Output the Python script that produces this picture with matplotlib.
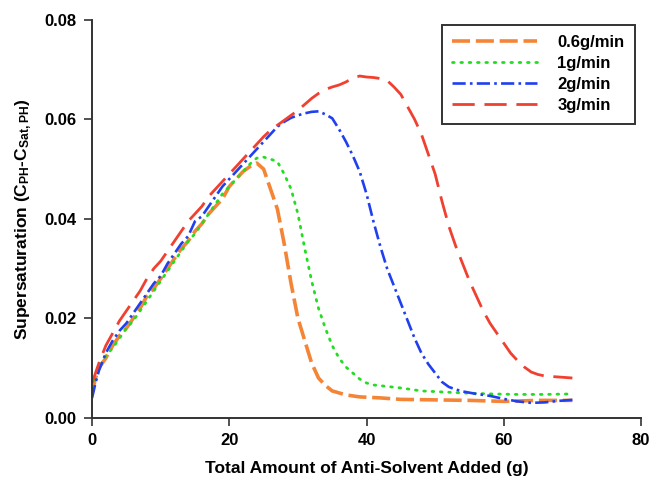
"""Supersaturation vs anti-solvent added, four feed rates."""
import matplotlib
matplotlib.use("Agg")
import matplotlib.pyplot as plt

plt.rcParams["font.family"] = ["Liberation Sans", "DejaVu Sans"]
plt.rcParams["font.weight"] = "bold"
plt.rcParams["mathtext.default"] = "regular"

# 0.6 g/min
x_06 = [0, 0.5, 1, 2, 3, 4, 5, 6, 7, 8, 9, 10, 11, 12, 13, 14, 15, 16, 17, 18, 19, 20,
        21, 22, 23, 24, 25, 26, 27, 28, 29, 30, 31, 32, 33, 34, 35, 37, 39, 42, 45, 50,
        55, 60, 65, 70]
y_06 = [0.005, 0.008, 0.010, 0.012, 0.0145, 0.0165, 0.018, 0.020, 0.022, 0.0245, 0.026,
        0.028, 0.030, 0.032, 0.034, 0.0355, 0.0375, 0.039, 0.041, 0.0425, 0.044, 0.0465,
        0.048, 0.0495, 0.0505, 0.0512, 0.050, 0.046, 0.042, 0.035, 0.027, 0.020, 0.0155,
        0.011, 0.008, 0.0065, 0.0054, 0.0046, 0.0042, 0.004, 0.0037, 0.0036, 0.0035,
        0.0033, 0.0035, 0.0035]

# 1 g/min
x_1 = [0, 0.5, 1, 2, 3, 4, 5, 6, 7, 8, 9, 10, 11, 12, 13, 14, 15, 16, 17, 18, 19, 20,
       21, 22, 23, 24, 25, 26, 27, 28, 29, 30, 31, 32, 33, 34, 35, 36, 37, 38, 39, 40,
       41, 43, 45, 48, 51, 54, 58, 62, 66, 70]
y_1 = [0.006, 0.008, 0.010, 0.0125, 0.014, 0.016, 0.018, 0.0195, 0.0215, 0.0235, 0.0255,
       0.0275, 0.0295, 0.0315, 0.0335, 0.0355, 0.037, 0.039, 0.041, 0.043, 0.045, 0.0465,
       0.048, 0.0495, 0.051, 0.0522, 0.0524, 0.052, 0.0515, 0.049, 0.046, 0.041, 0.034,
       0.0275, 0.022, 0.018, 0.0145, 0.012, 0.0102, 0.009, 0.0078, 0.007, 0.0066, 0.0063,
       0.006, 0.0054, 0.0052, 0.005, 0.0048, 0.0047, 0.0047, 0.0048]

# 2 g/min
x_2 = [0, 0.5, 1, 2, 3, 4, 5, 6, 7, 8, 9, 10, 11, 12, 13, 14, 15, 16, 17, 18, 19, 20,
       21, 22, 23, 24, 25, 26, 27, 28, 29, 30, 31, 32, 33, 34, 35, 36, 37, 38, 39, 40,
       41, 42, 43, 44, 45, 46, 47, 48, 49, 50, 51, 52, 53, 54, 56, 58, 60, 62, 64, 66,
       68, 70]
y_2 = [0.004, 0.007, 0.0095, 0.013, 0.0155, 0.0175, 0.019, 0.021, 0.023, 0.025, 0.027,
       0.0285, 0.031, 0.033, 0.035, 0.0365, 0.0395, 0.0405, 0.0425, 0.0445, 0.0465, 0.048,
       0.0495, 0.051, 0.0525, 0.054, 0.0555, 0.057, 0.0585, 0.0595, 0.0603, 0.0608,
       0.0612, 0.0615, 0.0616, 0.061, 0.0602, 0.058, 0.0555, 0.0527, 0.0495, 0.045,
       0.0395, 0.0345, 0.030, 0.0265, 0.023, 0.0195, 0.016, 0.013, 0.0108, 0.009, 0.0072,
       0.0062, 0.0057, 0.0053, 0.0048, 0.0044, 0.0038, 0.0033, 0.003, 0.0031, 0.0034,
       0.0036]

# 3 g/min
x_3 = [0, 0.5, 1, 2, 3, 4, 5, 6, 7, 8, 9, 10, 11, 12, 13, 14, 15, 16, 17, 18, 19, 20,
       21, 22, 23, 24, 25, 26, 27, 28, 29, 30, 31, 32, 33, 34, 35, 36, 37, 38, 39, 40,
       41, 42, 43, 44, 45, 46, 47, 48, 49, 50, 51, 52, 53, 54, 55, 56, 57, 58, 59, 60,
       61, 62, 63, 64, 65, 66, 67, 68, 69, 70]
y_3 = [0.007, 0.009, 0.011, 0.0145, 0.017, 0.0195, 0.0215, 0.0235, 0.0255, 0.028, 0.030,
       0.0315, 0.0335, 0.0355, 0.0375, 0.0395, 0.041, 0.0425, 0.0445, 0.046, 0.0475, 0.049,
       0.0505, 0.052, 0.0535, 0.055, 0.0565, 0.0578, 0.0588, 0.0598, 0.0608, 0.0618,
       0.063, 0.0642, 0.0652, 0.066, 0.0665, 0.0669, 0.0675, 0.0683, 0.0687, 0.0685,
       0.0684, 0.0682, 0.0678, 0.0665, 0.065, 0.0625, 0.060, 0.057, 0.053, 0.049, 0.0435,
       0.0385, 0.0345, 0.031, 0.0275, 0.0245, 0.0215, 0.019, 0.017, 0.015, 0.013, 0.0115,
       0.0102, 0.0092, 0.0087, 0.0084, 0.0083, 0.0082, 0.0081, 0.008]

labels = ["0.6g/min", "1g/min", "2g/min", "3g/min"]
x_ticks = [0, 20, 40, 60, 80]
y_ticks = [0.00, 0.02, 0.04, 0.06, 0.08]

fig = plt.figure(figsize=(6.53, 4.83), dpi=100)
ax = fig.add_axes([0.141, 0.135, 0.8406, 0.824])

ax.plot(x_06, y_06, color="#f58536", lw=2.6, dashes=(5, 1.6), label=labels[0])
ax.plot(x_1, y_1, color="#22dd22", lw=2.0, dashes=(0.6, 2.4), dash_capstyle="round",
        label=labels[1])
ax.plot(x_2, y_2, color="#2040f0", lw=1.9, dashes=(5, 1.6, 1, 1.6), label=labels[2])
ax.plot(x_3, y_3, color="#f04030", lw=2.0, dashes=(8, 3.5), label=labels[3])

ax.set_xlim(0, 80)
ax.set_ylim(0, 0.08)
ax.set_xticks(x_ticks)
ax.set_yticks(y_ticks)
ax.yaxis.set_major_formatter(matplotlib.ticker.FormatStrFormatter("%.2f"))
ax.tick_params(direction="out", length=6, width=1.2, labelsize=12, pad=5, color="#333333")
for s in ("top", "right"):
    ax.spines[s].set_visible(False)
for s in ("left", "bottom"):
    ax.spines[s].set_linewidth(1.4)
    ax.spines[s].set_color("#333333")

ax.set_xlabel("Total Amount of Anti-Solvent Added (g)", fontsize=12.5, fontweight="bold",
              labelpad=9)
ax.set_ylabel(r"Supersaturation (C$_{PH}$-C$_{Sat,PH}$)", fontsize=12.5, fontweight="bold",
              labelpad=8)

leg = ax.legend(loc="upper right", bbox_to_anchor=(0.989, 0.987), borderaxespad=0,
                fontsize=12, handlelength=5.1, handletextpad=1.2, labelspacing=0.36,
                borderpad=0.62, fancybox=False, framealpha=1, edgecolor="#333333")
leg.get_frame().set_linewidth(1.4)

plt.savefig("out.png", dpi=100)
plt.close(fig)
